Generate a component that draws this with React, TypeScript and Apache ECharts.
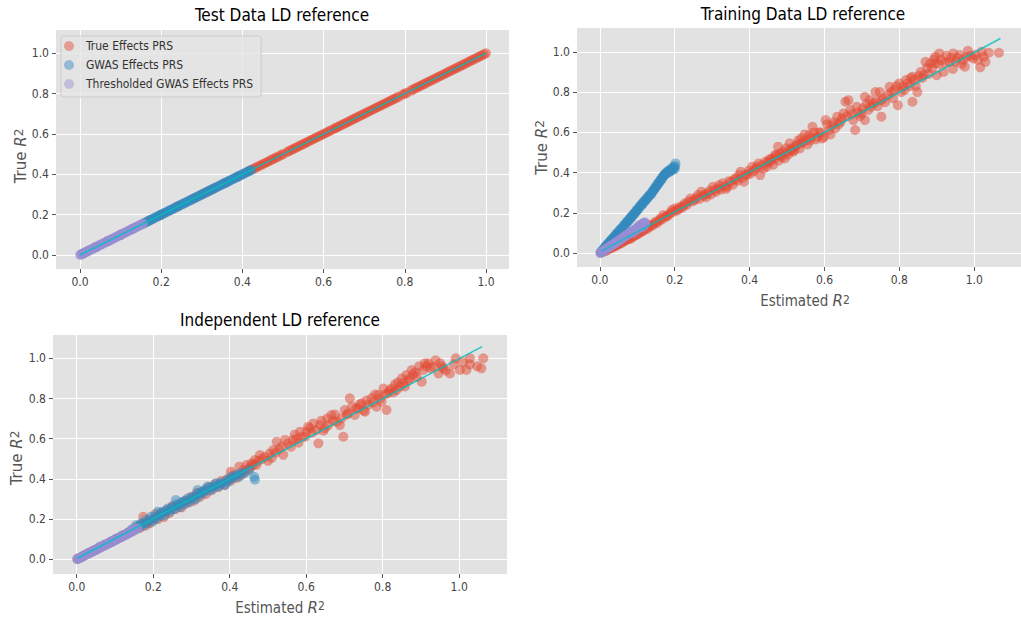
import React, { useEffect, useRef } from "react";
import * as echarts from "echarts";

// ---------------- data ----------------
const seriesNames = ["True Effects PRS", "GWAS Effects PRS", "Thresholded GWAS Effects PRS"];
const panelTitles = ["Test Data LD reference", "Training Data LD reference", "Independent LD reference"];
const tickValues = [0, 0.2, 0.4, 0.6, 0.8, 1.0];

// Test data LD reference: estimated R2 equals true R2
const testTrueEffects = [
  [0.005, 0.005], [0.02, 0.02], [0.04, 0.04], [0.07, 0.07], [0.1, 0.1], [0.13, 0.13], [0.17, 0.17], [0.2, 0.2],
  [0.24, 0.24], [0.28, 0.28], [0.3, 0.3], [0.31, 0.31], [0.32, 0.32], [0.33, 0.33], [0.36, 0.36], [0.39, 0.39],
  [0.42, 0.42], [0.425, 0.425], [0.43, 0.43], [0.435, 0.435], [0.44, 0.44], [0.445, 0.445], [0.45, 0.45],
  [0.455, 0.455], [0.46, 0.46], [0.465, 0.465], [0.47, 0.47], [0.475, 0.475], [0.48, 0.48], [0.485, 0.485],
  [0.49, 0.49], [0.497, 0.497], [0.5, 0.5], [0.51, 0.51], [0.515, 0.515], [0.52, 0.52], [0.525, 0.525],
  [0.53, 0.53], [0.535, 0.535], [0.54, 0.54], [0.545, 0.545], [0.55, 0.55], [0.555, 0.555], [0.56, 0.56],
  [0.565, 0.565], [0.57, 0.57], [0.575, 0.575], [0.58, 0.58], [0.585, 0.585], [0.59, 0.59], [0.595, 0.595],
  [0.6, 0.6], [0.605, 0.605], [0.61, 0.61], [0.615, 0.615], [0.62, 0.62], [0.627, 0.627], [0.63, 0.63],
  [0.635, 0.635], [0.64, 0.64], [0.645, 0.645], [0.65, 0.65], [0.655, 0.655], [0.66, 0.66], [0.665, 0.665],
  [0.67, 0.67], [0.675, 0.675], [0.68, 0.68], [0.685, 0.685], [0.69, 0.69], [0.695, 0.695], [0.7, 0.7],
  [0.705, 0.705], [0.71, 0.71], [0.715, 0.715], [0.72, 0.72], [0.725, 0.725], [0.73, 0.73], [0.735, 0.735],
  [0.74, 0.74], [0.745, 0.745], [0.75, 0.75], [0.755, 0.755], [0.76, 0.76], [0.765, 0.765], [0.77, 0.77],
  [0.775, 0.775], [0.78, 0.78], [0.785, 0.785], [0.795, 0.795], [0.8, 0.8], [0.805, 0.805], [0.815, 0.815],
  [0.82, 0.82], [0.825, 0.825], [0.83, 0.83], [0.835, 0.835], [0.84, 0.84], [0.845, 0.845], [0.85, 0.85],
  [0.855, 0.855], [0.86, 0.86], [0.865, 0.865], [0.87, 0.87], [0.875, 0.875], [0.88, 0.88], [0.885, 0.885],
  [0.89, 0.89], [0.895, 0.895], [0.9, 0.9], [0.905, 0.905], [0.91, 0.91], [0.915, 0.915], [0.92, 0.92],
  [0.925, 0.925], [0.93, 0.93], [0.935, 0.935], [0.94, 0.94], [0.945, 0.945], [0.95, 0.95], [0.955, 0.955],
  [0.96, 0.96], [0.965, 0.965], [0.97, 0.97], [0.975, 0.975], [0.98, 0.98], [0.985, 0.985], [0.99, 0.99],
  [0.995, 0.995], [1.0, 1.0],
];
const testGwasEffects = [
  [0.01, 0.01], [0.04, 0.04], [0.07, 0.07], [0.1, 0.1], [0.13, 0.13], [0.155, 0.155], [0.159, 0.159],
  [0.162, 0.162], [0.165, 0.165], [0.168, 0.168], [0.172, 0.172], [0.175, 0.175], [0.178, 0.178], [0.181, 0.181],
  [0.185, 0.185], [0.188, 0.188], [0.191, 0.191], [0.194, 0.194], [0.197, 0.197], [0.2, 0.2], [0.204, 0.204],
  [0.207, 0.207], [0.21, 0.21], [0.213, 0.213], [0.217, 0.217], [0.22, 0.22], [0.223, 0.223], [0.226, 0.226],
  [0.229, 0.229], [0.232, 0.232], [0.236, 0.236], [0.239, 0.239], [0.242, 0.242], [0.245, 0.245], [0.249, 0.249],
  [0.252, 0.252], [0.255, 0.255], [0.258, 0.258], [0.261, 0.261], [0.264, 0.264], [0.268, 0.268], [0.271, 0.271],
  [0.274, 0.274], [0.277, 0.277], [0.281, 0.281], [0.284, 0.284], [0.287, 0.287], [0.29, 0.29], [0.293, 0.293],
  [0.296, 0.296], [0.3, 0.3], [0.303, 0.303], [0.306, 0.306], [0.309, 0.309], [0.313, 0.313], [0.316, 0.316],
  [0.319, 0.319], [0.322, 0.322], [0.325, 0.325], [0.328, 0.328], [0.332, 0.332], [0.335, 0.335], [0.338, 0.338],
  [0.341, 0.341], [0.345, 0.345], [0.348, 0.348], [0.351, 0.351], [0.354, 0.354], [0.357, 0.357], [0.36, 0.36],
  [0.364, 0.364], [0.367, 0.367], [0.37, 0.37], [0.373, 0.373], [0.377, 0.377], [0.38, 0.38], [0.383, 0.383],
  [0.386, 0.386], [0.389, 0.389], [0.392, 0.392], [0.396, 0.396], [0.399, 0.399], [0.402, 0.402], [0.405, 0.405],
  [0.409, 0.409], [0.412, 0.412], [0.415, 0.415], [0.418, 0.418], [0.422, 0.422],
];
const testThresholdedEffects = [
  [0.0, 0.0], [0.002, 0.002], [0.004, 0.004], [0.007, 0.007], [0.009, 0.009], [0.012, 0.012], [0.014, 0.014],
  [0.017, 0.017], [0.019, 0.019], [0.022, 0.022], [0.024, 0.024], [0.027, 0.027], [0.029, 0.029], [0.032, 0.032],
  [0.034, 0.034], [0.037, 0.037], [0.039, 0.039], [0.042, 0.042], [0.044, 0.044], [0.047, 0.047], [0.049, 0.049],
  [0.052, 0.052], [0.054, 0.054], [0.057, 0.057], [0.059, 0.059], [0.062, 0.062], [0.064, 0.064], [0.067, 0.067],
  [0.069, 0.069], [0.072, 0.072], [0.074, 0.074], [0.077, 0.077], [0.079, 0.079], [0.082, 0.082], [0.084, 0.084],
  [0.087, 0.087], [0.089, 0.089], [0.092, 0.092], [0.094, 0.094], [0.097, 0.097], [0.099, 0.099], [0.102, 0.102],
  [0.104, 0.104], [0.107, 0.107], [0.109, 0.109], [0.112, 0.112], [0.114, 0.114], [0.117, 0.117], [0.119, 0.119],
  [0.122, 0.122], [0.124, 0.124], [0.127, 0.127], [0.129, 0.129], [0.132, 0.132], [0.134, 0.134], [0.137, 0.137],
  [0.139, 0.139], [0.142, 0.142], [0.144, 0.144], [0.147, 0.147], [0.149, 0.149], [0.152, 0.152], [0.154, 0.154],
  [0.156, 0.156],
];
const testFitLine = [[0, 0], [1.0, 1.0]];

// Training data LD reference
const trainTrueEffects = [
  [0.003, 0.004], [0.008, 0.01], [0.012, 0.009], [0.017, 0.013], [0.022, 0.02], [0.027, 0.024], [0.031, 0.025],
  [0.036, 0.032], [0.04, 0.036], [0.044, 0.037], [0.049, 0.045], [0.053, 0.048], [0.057, 0.05], [0.062, 0.058],
  [0.066, 0.06], [0.07, 0.066], [0.075, 0.07], [0.079, 0.072], [0.083, 0.074], [0.088, 0.083], [0.092, 0.086],
  [0.096, 0.091], [0.1, 0.094], [0.105, 0.1], [0.109, 0.107], [0.114, 0.108], [0.118, 0.115], [0.122, 0.124],
  [0.127, 0.121], [0.131, 0.13], [0.135, 0.14], [0.14, 0.137], [0.144, 0.146], [0.149, 0.157], [0.153, 0.15],
  [0.158, 0.162], [0.162, 0.174], [0.166, 0.168], [0.17, 0.19], [0.175, 0.18], [0.179, 0.184], [0.184, 0.19],
  [0.188, 0.2], [0.192, 0.215], [0.196, 0.205], [0.201, 0.223], [0.205, 0.212], [0.21, 0.218], [0.214, 0.231],
  [0.219, 0.225], [0.223, 0.236], [0.227, 0.248], [0.232, 0.24], [0.237, 0.257], [0.242, 0.272], [0.247, 0.258],
  [0.253, 0.264], [0.257, 0.275], [0.262, 0.289], [0.266, 0.27], [0.271, 0.306], [0.276, 0.285], [0.28, 0.292],
  [0.284, 0.278], [0.288, 0.298], [0.293, 0.31], [0.297, 0.292], [0.302, 0.33], [0.306, 0.315], [0.31, 0.305],
  [0.315, 0.322], [0.319, 0.338], [0.323, 0.316], [0.328, 0.347], [0.333, 0.332], [0.337, 0.32], [0.341, 0.33],
  [0.345, 0.358], [0.35, 0.355], [0.355, 0.34], [0.359, 0.366], [0.363, 0.372], [0.368, 0.36], [0.372, 0.388],
  [0.376, 0.405], [0.381, 0.375], [0.385, 0.355], [0.389, 0.392], [0.393, 0.388], [0.398, 0.41], [0.402, 0.395],
  [0.407, 0.43], [0.411, 0.408], [0.416, 0.42], [0.42, 0.43], [0.424, 0.446], [0.428, 0.388], [0.433, 0.438],
  [0.437, 0.42], [0.442, 0.454], [0.446, 0.43], [0.449, 0.45], [0.452, 0.465], [0.456, 0.455], [0.459, 0.471],
  [0.463, 0.44], [0.466, 0.47], [0.468, 0.488], [0.472, 0.488], [0.476, 0.529], [0.478, 0.46], [0.481, 0.496],
  [0.484, 0.485], [0.486, 0.478], [0.49, 0.505], [0.494, 0.471], [0.498, 0.521], [0.5, 0.5], [0.503, 0.49],
  [0.507, 0.546], [0.51, 0.51], [0.512, 0.52], [0.516, 0.504], [0.52, 0.512], [0.522, 0.53], [0.525, 0.537],
  [0.53, 0.56], [0.534, 0.52], [0.536, 0.545], [0.538, 0.57], [0.543, 0.55], [0.547, 0.59], [0.551, 0.562],
  [0.555, 0.54], [0.559, 0.587], [0.562, 0.56], [0.564, 0.575], [0.568, 0.628], [0.572, 0.6], [0.577, 0.565],
  [0.581, 0.578], [0.586, 0.6], [0.59, 0.6], [0.594, 0.57], [0.599, 0.578], [0.603, 0.661], [0.607, 0.64],
  [0.612, 0.612], [0.616, 0.59], [0.621, 0.636], [0.625, 0.65], [0.629, 0.62], [0.634, 0.678], [0.638, 0.64],
  [0.643, 0.653], [0.647, 0.67], [0.651, 0.694], [0.656, 0.752], [0.66, 0.68], [0.664, 0.76], [0.669, 0.711],
  [0.673, 0.69], [0.677, 0.661], [0.682, 0.612], [0.686, 0.727], [0.69, 0.7], [0.695, 0.68], [0.699, 0.694],
  [0.703, 0.72], [0.708, 0.777], [0.708, 0.661], [0.712, 0.74], [0.717, 0.711], [0.721, 0.76], [0.725, 0.727],
  [0.73, 0.745], [0.736, 0.8], [0.738, 0.752], [0.742, 0.73], [0.748, 0.8], [0.752, 0.76], [0.752, 0.678],
  [0.757, 0.77], [0.762, 0.75], [0.77, 0.785], [0.774, 0.826], [0.779, 0.8], [0.783, 0.77], [0.787, 0.81],
  [0.792, 0.83], [0.796, 0.735], [0.8, 0.843], [0.805, 0.8], [0.809, 0.826], [0.814, 0.81], [0.818, 0.86],
  [0.822, 0.843], [0.827, 0.83], [0.831, 0.87], [0.835, 0.876], [0.835, 0.752], [0.84, 0.86], [0.844, 0.83],
  [0.848, 0.8], [0.852, 0.88], [0.857, 0.9], [0.861, 0.87], [0.865, 0.884], [0.87, 0.95], [0.874, 0.92],
  [0.878, 0.89], [0.883, 0.942], [0.887, 0.92], [0.892, 0.96], [0.896, 0.975], [0.896, 0.942], [0.9, 0.884],
  [0.905, 0.94], [0.907, 0.992], [0.912, 0.96], [0.918, 0.9], [0.922, 0.945], [0.926, 0.98], [0.934, 0.95],
  [0.938, 0.97], [0.943, 0.915], [0.944, 0.992], [0.95, 0.95], [0.955, 0.97], [0.961, 0.984], [0.966, 0.94],
  [0.97, 0.96], [0.975, 0.926], [0.98, 0.975], [0.983, 1.005], [0.99, 0.98], [0.997, 0.967], [1.003, 0.985],
  [1.01, 0.96], [1.016, 0.923], [1.02, 1.0], [1.025, 0.975], [1.03, 0.95], [1.039, 0.995], [1.066, 0.995],
];
const trainGwasEffects = [
  [0.002, 0.003], [0.004, 0.009], [0.006, 0.012], [0.008, 0.016], [0.01, 0.02], [0.012, 0.027], [0.014, 0.032],
  [0.016, 0.034], [0.018, 0.036], [0.02, 0.044], [0.022, 0.05], [0.024, 0.05], [0.026, 0.054], [0.028, 0.062],
  [0.03, 0.066], [0.032, 0.068], [0.034, 0.07], [0.036, 0.078], [0.038, 0.082], [0.04, 0.084], [0.042, 0.088],
  [0.044, 0.096], [0.046, 0.1], [0.048, 0.1], [0.05, 0.104], [0.052, 0.112], [0.054, 0.118], [0.056, 0.118],
  [0.058, 0.122], [0.06, 0.128], [0.062, 0.13], [0.064, 0.138], [0.066, 0.142], [0.068, 0.144], [0.07, 0.148],
  [0.072, 0.156], [0.074, 0.16], [0.076, 0.16], [0.078, 0.165], [0.08, 0.172], [0.082, 0.178], [0.084, 0.178],
  [0.086, 0.182], [0.088, 0.19], [0.09, 0.196], [0.092, 0.196], [0.094, 0.2], [0.096, 0.208], [0.098, 0.214],
  [0.1, 0.214], [0.102, 0.218], [0.104, 0.226], [0.106, 0.228], [0.108, 0.236], [0.11, 0.24], [0.112, 0.24],
  [0.114, 0.245], [0.116, 0.254], [0.118, 0.256], [0.12, 0.26], [0.122, 0.262], [0.124, 0.27], [0.126, 0.272],
  [0.128, 0.278], [0.13, 0.28], [0.132, 0.288], [0.134, 0.29], [0.136, 0.292], [0.138, 0.296], [0.14, 0.306],
  [0.142, 0.31], [0.144, 0.314], [0.145, 0.316], [0.147, 0.324], [0.149, 0.328], [0.15, 0.33], [0.152, 0.335],
  [0.154, 0.342], [0.156, 0.35], [0.157, 0.346], [0.159, 0.352], [0.161, 0.362], [0.163, 0.366], [0.165, 0.366],
  [0.166, 0.372], [0.168, 0.38], [0.17, 0.384], [0.171, 0.386], [0.173, 0.39], [0.175, 0.396], [0.177, 0.398],
  [0.179, 0.396], [0.18, 0.402], [0.182, 0.408], [0.184, 0.41], [0.186, 0.404], [0.188, 0.408], [0.19, 0.42],
  [0.191, 0.416], [0.193, 0.412], [0.195, 0.42], [0.197, 0.43], [0.198, 0.425], [0.2, 0.418], [0.201, 0.432],
  [0.202, 0.446],
];
const trainThresholdedEffects = [
  [0.001, 0.001], [0.004, 0.006], [0.006, 0.007], [0.008, 0.01], [0.01, 0.013], [0.012, 0.014], [0.014, 0.019],
  [0.016, 0.022], [0.018, 0.022], [0.02, 0.024], [0.022, 0.028], [0.024, 0.03], [0.026, 0.034], [0.028, 0.036],
  [0.03, 0.037], [0.032, 0.04], [0.034, 0.043], [0.036, 0.044], [0.038, 0.048], [0.04, 0.05], [0.042, 0.052],
  [0.044, 0.054], [0.046, 0.058], [0.048, 0.06], [0.05, 0.063], [0.052, 0.066], [0.054, 0.066], [0.056, 0.068],
  [0.058, 0.074], [0.06, 0.076], [0.062, 0.077], [0.064, 0.08], [0.066, 0.084], [0.068, 0.084], [0.07, 0.09],
  [0.072, 0.092], [0.074, 0.091], [0.076, 0.094], [0.078, 0.1], [0.08, 0.1], [0.082, 0.104], [0.084, 0.106],
  [0.086, 0.106], [0.088, 0.11], [0.09, 0.1], [0.09, 0.114], [0.092, 0.116], [0.094, 0.116], [0.096, 0.12],
  [0.098, 0.124], [0.1, 0.126], [0.1, 0.115], [0.102, 0.126], [0.104, 0.13], [0.105, 0.14], [0.106, 0.132],
  [0.108, 0.136], [0.11, 0.13], [0.111, 0.142], [0.112, 0.14], [0.114, 0.146], [0.115, 0.128], [0.116, 0.148],
  [0.117, 0.15], [0.118, 0.14], [0.119, 0.152], [0.12, 0.154], [0.121, 0.144], [0.122, 0.148],
];
const trainFitLine = [[0.005, 0.012], [1.07, 1.066]];

// Independent LD reference
const indTrueEffects = [
  [0.002, 0.002], [0.008, 0.007], [0.014, 0.013], [0.02, 0.02], [0.026, 0.025], [0.032, 0.031], [0.038, 0.036],
  [0.044, 0.043], [0.05, 0.048], [0.056, 0.054], [0.062, 0.06], [0.068, 0.065], [0.074, 0.072], [0.08, 0.077],
  [0.086, 0.083], [0.092, 0.088], [0.098, 0.095], [0.104, 0.1], [0.11, 0.106], [0.116, 0.112], [0.122, 0.118],
  [0.128, 0.124], [0.134, 0.13], [0.14, 0.135], [0.146, 0.14], [0.152, 0.148], [0.158, 0.16], [0.164, 0.155],
  [0.17, 0.175], [0.174, 0.212], [0.18, 0.168], [0.186, 0.19], [0.192, 0.18], [0.2, 0.2], [0.206, 0.225],
  [0.212, 0.2], [0.22, 0.23], [0.228, 0.21], [0.235, 0.245], [0.242, 0.23], [0.25, 0.265], [0.258, 0.25],
  [0.266, 0.27], [0.274, 0.258], [0.282, 0.29], [0.29, 0.28], [0.298, 0.31], [0.306, 0.292], [0.314, 0.33],
  [0.322, 0.31], [0.33, 0.34], [0.338, 0.325], [0.346, 0.36], [0.354, 0.345], [0.362, 0.375], [0.37, 0.36],
  [0.378, 0.39], [0.386, 0.37], [0.394, 0.4], [0.402, 0.39], [0.403, 0.436], [0.41, 0.42], [0.418, 0.405],
  [0.425, 0.461], [0.43, 0.42], [0.436, 0.444], [0.44, 0.435], [0.444, 0.469], [0.45, 0.45], [0.454, 0.46],
  [0.457, 0.477], [0.462, 0.47], [0.466, 0.494], [0.47, 0.47], [0.475, 0.49], [0.479, 0.519], [0.485, 0.5],
  [0.492, 0.51], [0.5, 0.49], [0.505, 0.527], [0.51, 0.505], [0.514, 0.544], [0.52, 0.53], [0.523, 0.585],
  [0.53, 0.55], [0.536, 0.56], [0.54, 0.52], [0.545, 0.594], [0.553, 0.577], [0.56, 0.56], [0.566, 0.594],
  [0.57, 0.62], [0.575, 0.6], [0.58, 0.58], [0.584, 0.635], [0.59, 0.61], [0.597, 0.61], [0.601, 0.635],
  [0.605, 0.66], [0.61, 0.652], [0.615, 0.63], [0.619, 0.676], [0.627, 0.643], [0.632, 0.577], [0.636, 0.668],
  [0.64, 0.69], [0.645, 0.64], [0.649, 0.652], [0.655, 0.7], [0.658, 0.668], [0.666, 0.718], [0.67, 0.69],
  [0.675, 0.72], [0.68, 0.685], [0.688, 0.668], [0.692, 0.701], [0.697, 0.61], [0.701, 0.743], [0.706, 0.72],
  [0.71, 0.726], [0.714, 0.801], [0.72, 0.76], [0.727, 0.718], [0.73, 0.75], [0.736, 0.751], [0.74, 0.77],
  [0.745, 0.776], [0.75, 0.74], [0.754, 0.734], [0.758, 0.79], [0.762, 0.768], [0.771, 0.801], [0.775, 0.78],
  [0.78, 0.82], [0.784, 0.759], [0.788, 0.817], [0.793, 0.8], [0.797, 0.784], [0.802, 0.85], [0.806, 0.82],
  [0.81, 0.743], [0.814, 0.826], [0.818, 0.84], [0.823, 0.85], [0.828, 0.83], [0.832, 0.87], [0.836, 0.842],
  [0.84, 0.88], [0.845, 0.859], [0.85, 0.9], [0.854, 0.876], [0.858, 0.86], [0.862, 0.917], [0.866, 0.89],
  [0.871, 0.9], [0.876, 0.942], [0.88, 0.92], [0.885, 0.93], [0.889, 0.908], [0.895, 0.96], [0.902, 0.884],
  [0.906, 0.942], [0.91, 0.975], [0.915, 0.96], [0.919, 0.975], [0.925, 0.95], [0.932, 0.958], [0.938, 0.99],
  [0.946, 0.925], [0.95, 0.975], [0.955, 0.96], [0.958, 0.95], [0.965, 0.94], [0.976, 0.925], [0.986, 0.97],
  [0.991, 1.0], [1.002, 0.942], [1.01, 0.98], [1.019, 0.942], [1.028, 0.97], [1.028, 1.0], [1.047, 0.96],
  [1.058, 0.95], [1.063, 1.0],
];
const indGwasEffects = [
  [0.004, 0.004], [0.015, 0.014], [0.03, 0.03], [0.045, 0.044], [0.06, 0.06], [0.075, 0.074], [0.09, 0.09],
  [0.105, 0.104], [0.12, 0.12], [0.135, 0.134], [0.145, 0.15], [0.155, 0.17], [0.16, 0.158], [0.164, 0.168],
  [0.168, 0.179], [0.172, 0.165], [0.176, 0.18], [0.181, 0.196], [0.186, 0.18], [0.19, 0.195], [0.194, 0.212],
  [0.2, 0.19], [0.204, 0.21], [0.208, 0.203], [0.212, 0.237], [0.215, 0.22], [0.218, 0.215], [0.222, 0.228],
  [0.225, 0.237], [0.23, 0.22], [0.234, 0.24], [0.238, 0.253], [0.244, 0.238], [0.248, 0.255], [0.251, 0.262],
  [0.255, 0.25], [0.259, 0.295], [0.262, 0.275], [0.265, 0.268], [0.27, 0.26], [0.274, 0.28], [0.277, 0.287],
  [0.282, 0.275], [0.286, 0.292], [0.29, 0.303], [0.296, 0.285], [0.299, 0.3], [0.302, 0.31], [0.308, 0.312],
  [0.312, 0.3], [0.316, 0.345], [0.319, 0.33], [0.322, 0.322], [0.326, 0.335], [0.329, 0.328], [0.335, 0.34],
  [0.338, 0.35], [0.342, 0.362], [0.348, 0.342], [0.352, 0.36], [0.355, 0.353], [0.36, 0.365], [0.364, 0.378],
  [0.37, 0.36], [0.373, 0.372], [0.376, 0.38], [0.382, 0.378], [0.388, 0.37], [0.391, 0.392], [0.395, 0.386],
  [0.4, 0.4], [0.404, 0.41], [0.408, 0.403], [0.415, 0.415], [0.42, 0.422], [0.425, 0.411], [0.43, 0.43],
  [0.438, 0.428], [0.451, 0.444], [0.464, 0.411], [0.466, 0.396],
];
const indThresholdedEffects = [
  [0.001, 0.001], [0.003, 0.003], [0.005, 0.005], [0.008, 0.008], [0.01, 0.009], [0.013, 0.013], [0.015, 0.014],
  [0.018, 0.018], [0.02, 0.019], [0.023, 0.023], [0.025, 0.024], [0.028, 0.027], [0.03, 0.028], [0.033, 0.032],
  [0.035, 0.033], [0.038, 0.037], [0.04, 0.038], [0.043, 0.042], [0.045, 0.043], [0.048, 0.047], [0.05, 0.047],
  [0.053, 0.051], [0.055, 0.052], [0.058, 0.056], [0.06, 0.057], [0.06, 0.064], [0.063, 0.061], [0.065, 0.062],
  [0.068, 0.066], [0.07, 0.066], [0.073, 0.071], [0.075, 0.071], [0.078, 0.075], [0.08, 0.076], [0.083, 0.08],
  [0.085, 0.081], [0.088, 0.084], [0.09, 0.085], [0.093, 0.089], [0.095, 0.09], [0.098, 0.094], [0.1, 0.095],
  [0.1, 0.1], [0.103, 0.099], [0.105, 0.1], [0.108, 0.104], [0.11, 0.105], [0.113, 0.109], [0.115, 0.11],
  [0.118, 0.113], [0.12, 0.114], [0.123, 0.119], [0.125, 0.12], [0.128, 0.123], [0.13, 0.124], [0.133, 0.128],
  [0.135, 0.13], [0.138, 0.133], [0.14, 0.135], [0.14, 0.142], [0.143, 0.139], [0.145, 0.14], [0.148, 0.144],
  [0.15, 0.145], [0.153, 0.149], [0.155, 0.15], [0.158, 0.154], [0.16, 0.155],
];
const indFitLine = [[0.002, 0.005], [1.06, 1.058]];

const panelData = [
  { red: testTrueEffects, blue: testGwasEffects, purple: testThresholdedEffects, line: testFitLine },
  { red: trainTrueEffects, blue: trainGwasEffects, purple: trainThresholdedEffects, line: trainFitLine },
  { red: indTrueEffects, blue: indGwasEffects, purple: indThresholdedEffects, line: indFitLine },
];

// ---------------- styling / layout ----------------
const COLORS = ["#E24A33", "#348ABD", "#988ED5"];
const LINE_COLOR = "#00BFBF";
const BG = "#E2E2E2";
const FONT_C = "'DejaVu Sans Condensed', 'Liberation Sans Narrow', 'DejaVu Sans', sans-serif";
const FONT = "'DejaVu Sans', sans-serif";

const gridBoxes = [
  { left: 56, top: 30, width: 453, height: 239 },
  { left: 577, top: 28, width: 452, height: 239 },
  { left: 53, top: 335, width: 454, height: 239 },
];
const xRanges = [[-0.0591, 1.0567], [-0.0611, 1.125], [-0.062, 1.125]];
const yRanges = [[-0.0694, 1.1155], [-0.068, 1.118], [-0.073, 1.116]];

function buildOption() {
  const grid = gridBoxes.map((g) => ({ ...g, show: true, backgroundColor: BG, borderWidth: 0 }));
  const axisCommon = (range: number[]) => ({
    type: "value",
    min: range[0],
    max: range[1],
    axisLine: { show: false, onZero: false },
    axisTick: { show: true, length: 4, lineStyle: { color: "#555555", width: 1 }, customValues: tickValues },
    axisLabel: {
      customValues: tickValues,
      formatter: (v: number) => v.toFixed(1),
      color: "#444444",
      fontSize: 12,
      fontFamily: FONT_C,
      margin: 7,
    },
    splitLine: { show: true, lineStyle: { color: "#ffffff", width: 1 } },
  });
  const xAxis = xRanges.map((r, i) => ({ ...axisCommon(r), gridIndex: i }));
  const yAxis = yRanges.map((r, i) => ({ ...axisCommon(r), gridIndex: i }));

  const series: any[] = [];
  panelData.forEach((p, i) => {
    [p.red, p.blue, p.purple].forEach((d, k) => {
      series.push({
        type: "scatter",
        name: seriesNames[k],
        xAxisIndex: i,
        yAxisIndex: i,
        data: d,
        symbol: "circle",
        symbolSize: 10,
        itemStyle: { color: COLORS[k], opacity: 0.5 },
        emphasis: { disabled: true },
        silent: true,
        z: 2 + k,
      });
    });
    series.push({
      type: "line",
      name: "fit" + i,
      xAxisIndex: i,
      yAxisIndex: i,
      data: p.line,
      showSymbol: false,
      symbol: "none",
      lineStyle: { color: LINE_COLOR, width: 1.6, opacity: 0.8 },
      itemStyle: { color: LINE_COLOR },
      silent: true,
      z: 6,
    });
  });

  const rich = (family: string) => ({
    i: { fontStyle: "italic", fontSize: 15, fontFamily: FONT, fill: "#555555" },
    s: { fontSize: 12, fontFamily: family, fill: "#555555", verticalAlign: "top" },
  });
  const yName = (x: number, y: number) => ({
    type: "text",
    x,
    y,
    rotation: Math.PI / 2,
    style: {
      text: "True {i|R}{s|2}",
      fill: "#555555",
      fontSize: 15,
      fontFamily: FONT,
      align: "center",
      verticalAlign: "middle",
      rich: rich(FONT),
    },
  });
  const xName = (x: number, y: number) => ({
    type: "text",
    x,
    y,
    style: {
      text: "Estimated {i|R}{s|2}",
      fill: "#555555",
      fontSize: 15,
      fontFamily: FONT_C,
      align: "center",
      verticalAlign: "middle",
      rich: rich(FONT_C),
    },
  });
  const title = (text: string, x: number, y: number) => ({
    type: "text",
    x,
    y,
    style: { text, fill: "#000000", fontSize: 17, fontFamily: FONT_C, align: "center", verticalAlign: "middle" },
  });

  return {
    animation: false,
    backgroundColor: "#ffffff",
    grid,
    xAxis,
    yAxis,
    series,
    legend: {
      orient: "vertical",
      left: 61,
      top: 36,
      data: seriesNames,
      icon: "circle",
      itemWidth: 24,
      itemHeight: 10,
      itemGap: 5,
      padding: [3, 8, 6, 3],
      selectedMode: false,
      backgroundColor: "rgba(229,229,229,0.8)",
      borderColor: "#cccccc",
      borderWidth: 1,
      borderRadius: 3,
      itemStyle: { opacity: 0.45 },
      textStyle: { fontSize: 12, color: "#333333", fontFamily: FONT_C, lineHeight: 14 },
    },
    graphic: [
      title(panelTitles[0], 282, 15),
      title(panelTitles[1], 803, 13.5),
      title(panelTitles[2], 280, 320),
      yName(20.5, 156),
      yName(541.5, 147.5),
      yName(16.7, 458),
      xName(805, 301),
      xName(280, 607.5),
    ],
  };
}

export default function App() {
  const ref = useRef<HTMLDivElement>(null);
  useEffect(() => {
    document.body.style.margin = "0";
    if (!ref.current) return;
    const chart = echarts.init(ref.current, undefined, { renderer: "svg" });
    chart.setOption(buildOption() as any);
    return () => chart.dispose();
  }, []);
  return <div ref={ref} style={{ width: 1021, height: 621 }} />;
}
